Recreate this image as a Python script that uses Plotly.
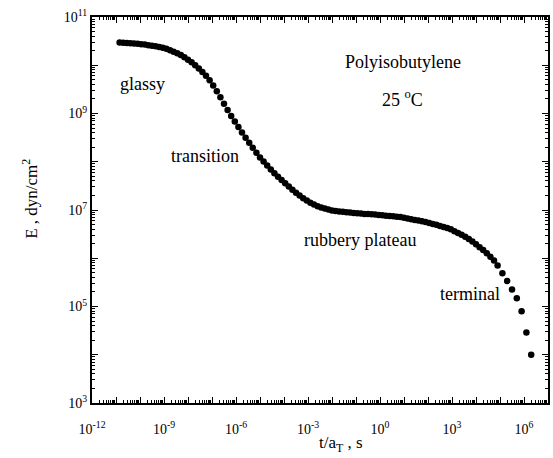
import plotly.graph_objects as go

# log10 of reduced time t/aT (s) and log10 of relaxation modulus E (dyn/cm^2)
log_t = [-10.85, -10.70, -10.55, -10.40, -10.25, -10.10, -9.95, -9.80, -9.65, -9.50,
         -9.35, -9.20, -9.05, -8.90, -8.75, -8.60, -8.45, -8.30, -8.15, -8.00,
         -7.85, -7.70, -7.55, -7.40, -7.25, -7.10, -6.95, -6.80, -6.65, -6.50,
         -6.35, -6.20, -6.05, -5.90, -5.75, -5.60, -5.45, -5.30, -5.15, -5.00,
         -4.85, -4.70, -4.55, -4.40, -4.25, -4.10, -3.95, -3.80, -3.65, -3.50,
         -3.35, -3.20, -3.05, -2.90, -2.75, -2.60, -2.45, -2.30, -2.15, -2.00,
         -1.85, -1.70, -1.55, -1.40, -1.25, -1.10, -0.95, -0.80, -0.65, -0.50,
         -0.35, -0.20, -0.05, 0.10, 0.25, 0.40, 0.55, 0.70, 0.85, 1.00,
         1.15, 1.30, 1.45, 1.60, 1.75, 1.90, 2.05, 2.20, 2.35, 2.50,
         2.65, 2.80, 2.95, 3.10, 3.25, 3.40, 3.55, 3.70, 3.85, 4.00,
         4.15, 4.30, 4.45, 4.60, 4.75, 4.90,
         5.10, 5.30, 5.50, 5.70, 5.90, 6.10, 6.30]
log_E = [10.470, 10.465, 10.460, 10.457, 10.453, 10.445, 10.437, 10.428, 10.416, 10.405,
         10.394, 10.380, 10.363, 10.340, 10.310, 10.280, 10.248, 10.210, 10.165, 10.115,
         10.060, 10.000, 9.933, 9.860, 9.780, 9.690, 9.578, 9.460, 9.335, 9.200,
         9.073, 8.950, 8.833, 8.720, 8.608, 8.500, 8.395, 8.290, 8.185, 8.090,
         8.003, 7.920, 7.838, 7.760, 7.688, 7.620, 7.553, 7.485, 7.420, 7.360,
         7.300, 7.245, 7.195, 7.150, 7.113, 7.080, 7.053, 7.030, 7.008, 6.990,
         6.978, 6.970, 6.963, 6.955, 6.948, 6.940, 6.933, 6.925, 6.919, 6.915,
         6.911, 6.905, 6.898, 6.890, 6.883, 6.875, 6.868, 6.860, 6.853, 6.840,
         6.825, 6.810, 6.795, 6.780, 6.765, 6.750, 6.728, 6.710, 6.693, 6.670,
         6.648, 6.625, 6.600, 6.560, 6.523, 6.485, 6.445, 6.400, 6.348, 6.290,
         6.230, 6.170, 6.103, 6.030, 5.953, 5.850,
         5.690, 5.530, 5.350, 5.170, 4.900, 4.460, 4.000]

x_tick_exps = [-12, -9, -6, -3, 0, 3, 6]
y_tick_exps = [3, 5, 7, 9, 11]
x_decades = list(range(-12, 8))
y_decades = list(range(3, 12))

n = min(len(log_t), len(log_E))
t = [10 ** v for v in log_t[:n]]
E = [10 ** v for v in log_E[:n]]

FONT = "Liberation Serif"

def decade_ticks(decades, labelled):
    vals = [10.0 ** d for d in decades]
    text = [f"10<sup>{d}</sup>" if d in labelled else "" for d in decades]
    return vals, text

def minor_vals(decades):
    out = []
    for d in decades[:-1]:
        for k in range(2, 10):
            out.append(k * 10.0 ** d)
    return out

xv, xt = decade_ticks(x_decades, x_tick_exps)
yv, yt = decade_ticks(y_decades, y_tick_exps)

fig = go.Figure()
fig.add_trace(go.Scatter(x=t, y=E, mode="markers",
                         marker=dict(color="black", size=6.5, line=dict(width=0)),
                         showlegend=False))

axis_common = dict(type="log", showgrid=False, zeroline=False, showline=True,
                   linecolor="black", linewidth=2, mirror="allticks",
                   ticks="inside", ticklen=6, tickwidth=1.2, tickcolor="black",
                   tickfont=dict(family=FONT, size=14, color="black"))

fig.update_xaxes(**axis_common, range=[-12, 7], tickmode="array", tickvals=xv, ticktext=xt,
                 ticklabelstandoff=12,
                 minor=dict(ticks="inside", ticklen=3, tickwidth=1, tickcolor="black",
                            tickmode="array", tickvals=minor_vals(x_decades), showgrid=False))
fig.update_yaxes(**axis_common, range=[3, 11], tickmode="array", tickvals=yv, ticktext=yt,
                 minor=dict(ticks="inside", ticklen=3, tickwidth=1, tickcolor="black",
                            tickmode="array", tickvals=minor_vals(y_decades), showgrid=False))

# axis titles placed as annotations (positions in paper units)
fig.add_annotation(text="t/a<sub>T</sub> , s", x=0.546, y=-0.107, xref="paper", yref="paper",
                   showarrow=False, xanchor="center", yanchor="middle",
                   font=dict(family=FONT, size=17, color="black"))
fig.add_annotation(text="E , dyn/cm<sup>2</sup>", x=-0.135, y=0.53, xref="paper", yref="paper",
                   showarrow=False, xanchor="center", yanchor="middle", textangle=-90,
                   font=dict(family=FONT, size=17, color="black"))

labels = [
    ("glassy", 0.111, 0.826),
    ("transition", 0.247, 0.640),
    ("rubbery plateau", 0.587, 0.422),
    ("terminal", 0.828, 0.282),
    ("Polyisobutylene", 0.681, 0.883),
    ("25 <sup>o</sup>C", 0.681, 0.790),
]
for txt, ax_, ay_ in labels:
    fig.add_annotation(text=txt, x=ax_, y=ay_, xref="paper", yref="paper",
                       showarrow=False, xanchor="center", yanchor="middle",
                       font=dict(family=FONT, size=18, color="black"))

fig.update_layout(width=553, height=458, margin=dict(l=92, r=3, t=17, b=55),
                  paper_bgcolor="white", plot_bgcolor="white")

fig.write_html("out.html")
